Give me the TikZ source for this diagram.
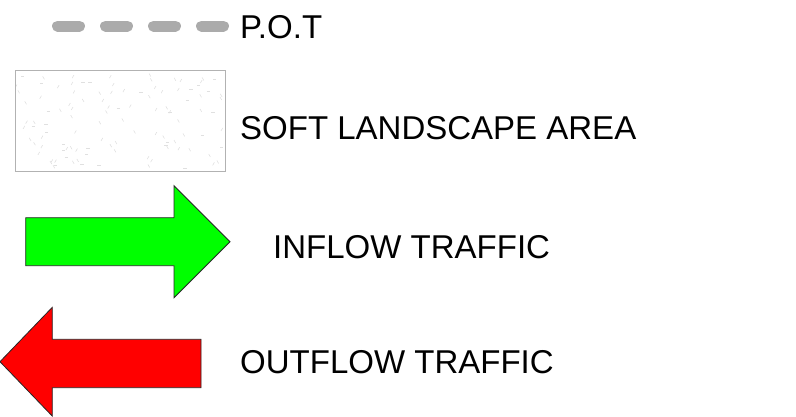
\documentclass[tikz,border=0pt]{standalone}
\usepackage{fontspec}
\setmainfont{Liberation Sans}
\begin{document}
\begin{tikzpicture}[x=1pt,y=-1pt,
  lbl/.style={anchor=west,inner sep=0pt,font=\fontsize{33}{36}\selectfont},
  potline/.style={line width=11pt,line cap=round,dash pattern=on 22pt off 26pt,color=black!33},
  arrowshape/.style={draw=black!85,line width=0.8pt,line join=miter},
  speck/.style={draw=black!12,line width=0.6pt}]
\useasboundingbox (0,0) rectangle (796,416);
% P.O.T line
\coordinate (p1) at (57.5,26);
\coordinate (p2) at (224.5,26);
\draw[potline] (p1) -- (p2);
\node[lbl] (pot) at (240,27) {P.O.T};
% soft landscape area
\node[draw=black!30,line width=0.8pt,minimum width=210pt,minimum height=101pt,anchor=north west,inner sep=0pt] (soft) at (15,70) {};
\pgfmathsetseed{7}
\begin{scope}
\clip (16,71) rectangle (224,169);
\foreach \i in {1,...,110}{
  \pgfmathsetmacro{\xx}{17+206*rnd}
  \pgfmathsetmacro{\yy}{72+96*rnd}
  \pgfmathsetmacro{\aa}{int(3*rnd)*60}
  \draw[speck] (\xx,\yy) -- ++(\aa:3.5);
}
\end{scope}
\node[lbl] (softl) at (240,128) {SOFT LANDSCAPE AREA};
% inflow arrow
\draw[arrowshape,fill=green] (25.7,217.7) -- (174,217.7) -- (174,185.7) -- (230,241.7) -- (174,297.7) -- (174,265.7) -- (25.7,265.7) -- cycle;
\node[lbl] (inl) at (273,247) {INFLOW TRAFFIC};
% outflow arrow
\draw[arrowshape,fill=red] (201,339.3) -- (52.3,339.3) -- (52.3,307.3) -- (0,361.7) -- (52.3,416.1) -- (52.3,387.7) -- (201,387.7) -- cycle;
\node[lbl] (outl) at (240,362) {OUTFLOW TRAFFIC};
\end{tikzpicture}
\end{document}
